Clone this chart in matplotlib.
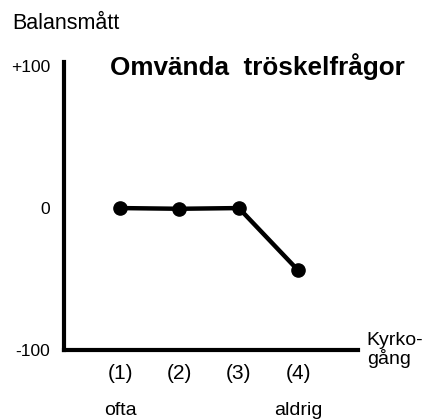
import matplotlib.pyplot as plt

# --- data ---
kategorier = [1, 2, 3, 4]
balansmatt = [0, -0.5, 0, -44]
x_etiketter = ["(1)", "(2)", "(3)", "(4)"]
x_under = ["ofta", "", "", "aldrig"]
y_ticks = [100, 0, -100]
y_etiketter = ["+100", "0", "-100"]

plt.rcParams['font.family'] = ['Liberation Sans', 'DejaVu Sans']

fig = plt.figure(figsize=(4.30, 4.19), dpi=100)
ax = fig.add_axes([0.149, 0.165, 0.684, 0.687])

ax.plot(kategorier, balansmatt, color='black', linewidth=3.2,
        marker='o', markersize=9.5, solid_capstyle='round')

ax.set_xlim(0.056, 5.01)
ax.set_ylim(-100, 103)

ax.set_yticks(y_ticks)
ax.set_yticklabels(y_etiketter, fontsize=12.5)
ax.set_xticks(kategorier)
ax.set_xticklabels(x_etiketter, fontsize=15)
ax.tick_params(axis='both', length=0)
ax.tick_params(axis='y', pad=10)
ax.tick_params(axis='x', pad=10)

# text under (1) and (4)
for x, t in zip(kategorier, x_under):
    if t:
        ax.text(x, -0.21, t, transform=ax.get_xaxis_transform(), fontsize=14,
                ha='center', va='center')

for s in ['top', 'right']:
    ax.spines[s].set_visible(False)
for s in ['left', 'bottom']:
    ax.spines[s].set_linewidth(3)

fig.text(0.028, 0.945, "Balansmått", fontsize=15.5, va='center', ha='left')
fig.text(0.256, 0.842, "Omvända  tröskelfrågor", fontsize=18.8, fontweight='bold',
         va='center', ha='left')
fig.text(0.853, 0.165, "Kyrko-\ngång", fontsize=14, va='center',
         ha='left', linespacing=1.0)

fig.savefig("out.png", dpi=100)
